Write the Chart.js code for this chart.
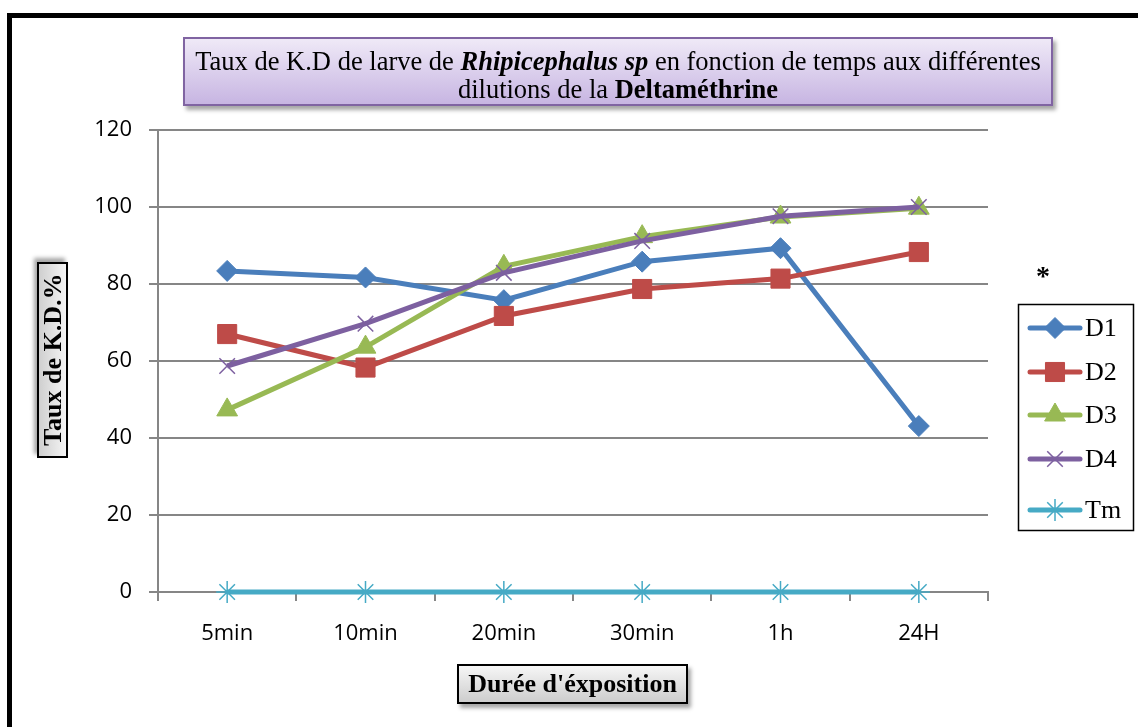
<!DOCTYPE html>
<html>
<head>
<meta charset="utf-8">
<script src="https://cdn.jsdelivr.net/npm/chart.js@4.4.0/dist/chart.umd.min.js"></script>
<style>
body { margin: 0; background: #fff; }
#wrap { position: relative; width: 1138px; height: 727px; overflow: hidden; background: #fff; }
#frame { position: absolute; left: 7px; top: 13px; width: 1300px; height: 900px; border-left: 5px solid #000; border-top: 5px solid #000; }
#myChart { position: absolute; left: 0; top: 0; }
#title {
    position: absolute; left: 183px; top: 37px; width: 870px; height: 69px; box-sizing: border-box;
    border: 2px solid #8064a2; background: linear-gradient(#efe9f7, #c7b5e2);
    box-shadow: 3px 4px 4px rgba(0,0,0,0.35);
    font-family: "Liberation Serif", serif; font-size: 26.5px; line-height: 28px; text-align: center; padding-top: 8px; color: #000;
    white-space: nowrap;
}
#ylab {
    position: absolute; left: 37px; top: 262px; width: 31px; height: 196px; box-sizing: border-box;
    border: 2px solid #000; background: linear-gradient(90deg, #f4f4f4, #cfcfcf);
    box-shadow: 3px 4px 4px rgba(0,0,0,0.35);
    font-family: "Liberation Serif", serif; font-weight: bold; font-size: 26px;
    writing-mode: vertical-rl; transform: rotate(180deg); text-align: center; line-height: 27px; white-space: nowrap;
}
#xlab {
    position: absolute; left: 457px; top: 664px; width: 231px; height: 40px; box-sizing: border-box;
    border: 2px solid #000; background: linear-gradient(#f6f6f6, #cdcdcd);
    box-shadow: 3px 4px 4px rgba(0,0,0,0.35);
    font-family: "Liberation Serif", serif; font-weight: bold; font-size: 26px; line-height: 36px; text-align: center; white-space: nowrap;
}
</style>
</head>
<body>
<div id="wrap">
    <div id="frame"></div>
    <canvas id="myChart" width="1138" height="727"></canvas>
    <div id="title">Taux de K.D de larve de <b><i>Rhipicephalus sp</i></b> en fonction de temps aux différentes<br>dilutions de la <b>Deltaméthrine</b></div>
    <div id="ylab">Taux de K.D.%</div>
    <div id="xlab">Durée d'éxposition</div>
</div>
<script>
const categories = ["5min", "10min", "20min", "30min", "1h", "24H"];
const seriesNames = ["D1", "D2", "D3", "D4", "Tm"];
const d1 = [83.4, 81.7, 75.8, 85.8, 89.3, 43.1];
const d2 = [67.0, 58.3, 71.7, 78.7, 81.4, 88.3];
const d3 = [47.3, 63.6, 84.6, 92.3, 97.4, 99.7];
const d4 = [58.7, 69.7, 82.9, 91.2, 97.6, 100];
const tm = [0, 0, 0, 0, 0, 0];
const yTicks = [0, 20, 40, 60, 80, 100, 120];

const COLORS = {
    blue: "#4a7ebb",
    red: "#be4b48",
    green: "#98b954",
    purple: "#7d60a0",
    aqua: "#46aac5"
};

const GRID = "#868686";

function makeLine(label, values, color, style, radius, pw, order) {
    return {
        label: label,
        data: values,
        borderColor: color,
        backgroundColor: color,
        borderWidth: 5,
        pointStyle: style,
        pointRadius: radius,
        pointBorderWidth: pw,
        pointBackgroundColor: color,
        pointBorderColor: color,
        tension: 0,
        clip: false,
        order: order
    };
}

const data = {
    labels: categories,
    datasets: [
        makeLine(seriesNames[0], d1, COLORS.blue, "rectRot", 10.5, 1, 4),
        makeLine(seriesNames[1], d2, COLORS.red, "rect", 13.5, 1, 3),
        makeLine(seriesNames[2], d3, COLORS.green, "triangle", 12, 1, 2),
        makeLine(seriesNames[3], d4, COLORS.purple, "crossRot", 11, 1.5, 1),
        makeLine(seriesNames[4], tm, COLORS.aqua, "star", 11, 1.5, 0)
    ]
};

// legend drawn by hand: line + marker + name, like the office chart
const legendBox = {
    id: "legendBox",
    afterDraw(chart) {
        const ctx = chart.ctx;
        ctx.save();
        ctx.strokeStyle = "#000";
        ctx.lineWidth = 1.5;
        ctx.strokeRect(1018.5, 304.5, 115, 226);
        const rows = [328, 372, 415, 459, 510];
        chart.data.datasets.forEach(function (ds, i) {
            const y = rows[i];
            ctx.strokeStyle = ds.borderColor;
            ctx.lineWidth = 5;
            ctx.lineCap = "round";
            ctx.beginPath();
            ctx.moveTo(1030, y);
            ctx.lineTo(1080, y);
            ctx.stroke();
            ctx.fillStyle = ds.pointBackgroundColor;
            ctx.strokeStyle = ds.pointBorderColor;
            ctx.lineWidth = ds.pointBorderWidth;
            ctx.lineCap = "butt";
            Chart.helpers.drawPoint(ctx, {
                pointStyle: ds.pointStyle,
                rotation: 0,
                radius: ds.pointRadius,
                borderWidth: ds.pointBorderWidth
            }, 1055, y);
            ctx.fillStyle = "#000";
            ctx.font = "26px 'Liberation Serif'";
            ctx.textAlign = "left";
            ctx.textBaseline = "middle";
            ctx.fillText(ds.label, 1085, y + 1);
        });
        ctx.font = "bold 28px 'Liberation Serif'";
        ctx.textAlign = "center";
        ctx.textBaseline = "middle";
        ctx.fillText("*", 1043, 278);
        ctx.restore();
    }
};

const config = {
    type: "line",
    data: data,
    options: {
        responsive: false,
        animation: false,
        layout: {
            padding: { left: 0, top: 130, right: 150, bottom: 0 }
        },
        plugins: {
            legend: { display: false },
            title: { display: false },
            tooltip: { enabled: false }
        },
        scales: {
            x: {
                type: "category",
                offset: true,
                grid: {
                    display: true,
                    drawOnChartArea: false,
                    drawTicks: true,
                    tickLength: 9,
                    offset: true,
                    color: GRID,
                    lineWidth: 2
                },
                border: { color: GRID, width: 2 },
                ticks: {
                    color: "#000",
                    padding: 20,
                    font: { family: "'Open Sans'", size: 22 }
                },
                afterFit: function (scale) { scale.height = 135; }
            },
            y: {
                min: yTicks[0],
                max: yTicks[yTicks.length - 1],
                afterBuildTicks: function (scale) {
                    scale.ticks = yTicks.map(function (v) { return { value: v }; });
                },
                grid: {
                    color: GRID,
                    lineWidth: 2,
                    tickLength: 9
                },
                border: { color: GRID, width: 2 },
                ticks: {
                    color: "#000",
                    padding: 17,
                    font: { family: "'Open Sans'", size: 22 }
                },
                afterFit: function (scale) { scale.width = 158; }
            }
        }
    },
    plugins: [legendBox]
};

const myChart = new Chart(document.getElementById("myChart"), config);
</script>
</body>
</html>
